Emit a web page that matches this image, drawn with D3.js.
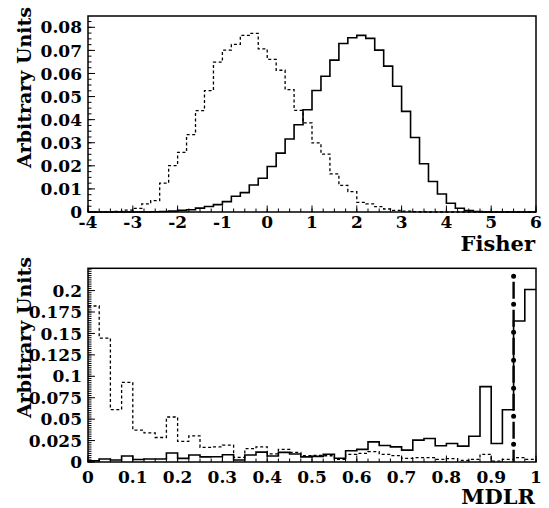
<!DOCTYPE html>
<html lang="en">
<head>
    <meta charset="UTF-8">
    <script src="https://cdn.jsdelivr.net/npm/d3@7"></script>
    <title>Fisher / MDLR</title>
    <style>
        body { margin: 0; background: #fff; }
        text { font-family: "DejaVu Serif", "Liberation Serif", serif; font-weight: bold; fill: #000; }
    </style>
</head>
<body>
    <script>
        // fisher discriminant, bins of 0.2 from -4 to 6
        const fisherStart = -4;
        const fisherBin = 0.2;
        const fisherSig = [
            0, 0, 0, 0, 0, 0, 0, 0.0001, 0.0002, 0.0004,
            0.0007, 0.0010, 0.0017, 0.0024, 0.0032, 0.0045, 0.0068, 0.0084, 0.0117, 0.0146,
            0.0197, 0.0255, 0.0316, 0.0378, 0.0443, 0.0526, 0.0588, 0.0658, 0.0730, 0.0755,
            0.0765, 0.0752, 0.0701, 0.0632, 0.0545, 0.0436, 0.0323, 0.0209, 0.0132, 0.0078,
            0.0038, 0.0016, 0.0006, 0.0002, 0, 0, 0, 0, 0, 0
        ];
        const fisherBkg = [
            0, 0, 0, 0.0003, 0.0008, 0.0016, 0.0035, 0.0049, 0.0125, 0.0201,
            0.0258, 0.0335, 0.0439, 0.0526, 0.0649, 0.0701, 0.0726, 0.0765, 0.0774, 0.0707,
            0.0661, 0.0614, 0.0530, 0.0440, 0.0386, 0.0299, 0.0251, 0.0165, 0.0115, 0.0088,
            0.0042, 0.0035, 0.0023, 0.0013, 0.0007, 0.0004, 0.0002, 0.0001, 0, 0,
            0, 0, 0, 0, 0, 0, 0, 0, 0, 0
        ];
        const fisherTicks = [-4, -3, -2, -1, 0, 1, 2, 3, 4, 5, 6];
        const fisherYTicks = [0, 0.01, 0.02, 0.03, 0.04, 0.05, 0.06, 0.07, 0.08];

        // MDLR, bins of 0.025 from 0 to 1
        const mdlrStart = 0;
        const mdlrBin = 0.025;
        const mdlrSig = [
            0.0015, 0.0035, 0.0023, 0.0070, 0.0030, 0.0035, 0.0035, 0.0105, 0.0042, 0.0081,
            0.0060, 0.0062, 0.0085, 0.0023, 0.0081, 0.0115, 0.0070, 0.0112, 0.0093, 0.0060,
            0.0066, 0.0090, 0.0043, 0.0131, 0.0147, 0.0235, 0.0193, 0.0177, 0.0139, 0.0255,
            0.0274, 0.0189, 0.0216, 0.0185, 0.0301, 0.0880, 0.0216, 0.0610, 0.1645, 0.2012
        ];
        const mdlrBkg = [
            0.1820, 0.1445, 0.0610, 0.0930, 0.0371, 0.0340, 0.0286, 0.0525, 0.0240, 0.0305,
            0.0170, 0.0177, 0.0197, 0.0055, 0.0155, 0.0177, 0.0095, 0.0147, 0.0112, 0.0073,
            0.0077, 0.0073, 0.0030, 0.0090, 0.0100, 0.0120, 0.0090, 0.0075, 0.0043, 0.0050,
            0.0050, 0.0030, 0.0040, 0.0020, 0.0030, 0.0090, 0.0010, 0.0030, 0.0050, 0.0030
        ];
        const mdlrTicks = [0, 0.1, 0.2, 0.3, 0.4, 0.5, 0.6, 0.7, 0.8, 0.9, 1];
        const mdlrYTicks = [0, 0.025, 0.05, 0.075, 0.1, 0.125, 0.15, 0.175, 0.2];
        const mdlrCut = 0.95;
        const mdlrCutTop = 0.2167;

        const w = 549;
        const h = 508;

        const svg = d3.select("body").append("svg")
            .attr("width", w)
            .attr("height", h);

        // plain hyphen for negatives, like the original plot
        const fmt = d => String(+d.toFixed(4));

        function stepLine(values, start, bin, x, y) {
            const pts = values.map((v, i) => [start + i * bin, v]);
            pts.push([start + values.length * bin, values[values.length - 1]]);
            return d3.line()
                .x(d => x(d[0]))
                .y(d => y(d[1]))
                .curve(d3.curveStepAfter)(pts);
        }

        function panel(opt) {
            const x = d3.scaleLinear().domain(opt.xDomain).range([88, 536]);
            const y = d3.scaleLinear().domain(opt.yDomain).range([opt.bottom, opt.top]);
            const g = svg.append("g");

            // minor + major ticks on x (bottom, pointing up)
            const xMinor = d3.range(opt.xDomain[0], opt.xDomain[1] + 1e-9, opt.xMinor);
            g.selectAll(".xminor")
                .data(xMinor)
                .enter()
                .append("line")
                .attr("x1", d => x(d)).attr("x2", d => x(d))
                .attr("y1", opt.bottom).attr("y2", opt.bottom - 3.5)
                .attr("stroke", "#000").attr("stroke-width", 1);
            g.selectAll(".xmajor")
                .data(opt.xTicks)
                .enter()
                .append("line")
                .attr("x1", d => x(d)).attr("x2", d => x(d))
                .attr("y1", opt.bottom).attr("y2", opt.bottom - 6.5)
                .attr("stroke", "#000").attr("stroke-width", 1);

            // y ticks (left, pointing right)
            const yMinor = d3.range(opt.yDomain[0], opt.yDomain[1], opt.yMinor);
            g.selectAll(".yminor")
                .data(yMinor)
                .enter()
                .append("line")
                .attr("y1", d => y(d)).attr("y2", d => y(d))
                .attr("x1", 88).attr("x2", 88 + 3.5)
                .attr("stroke", "#000").attr("stroke-width", 1);
            g.selectAll(".ymajor")
                .data(opt.yTicks)
                .enter()
                .append("line")
                .attr("y1", d => y(d)).attr("y2", d => y(d))
                .attr("x1", 88).attr("x2", 88 + 7)
                .attr("stroke", "#000").attr("stroke-width", 1);

            // histograms
            g.append("path")
                .attr("d", stepLine(opt.bkg, opt.start, opt.bin, x, y))
                .attr("fill", "none")
                .attr("stroke", "#000")
                .attr("stroke-width", 1.3)
                .attr("stroke-dasharray", "3,2.5");
            g.append("path")
                .attr("d", stepLine(opt.sig, opt.start, opt.bin, x, y))
                .attr("fill", "none")
                .attr("stroke", "#000")
                .attr("stroke-width", 1.6);

            // frame
            g.append("rect")
                .attr("x", 88).attr("y", opt.top)
                .attr("width", 448).attr("height", opt.bottom - opt.top)
                .attr("fill", "none")
                .attr("stroke", "#000")
                .attr("stroke-width", 1.5);

            // labels
            g.selectAll(".xlab")
                .data(opt.xTicks)
                .enter()
                .append("text")
                .attr("x", d => x(d))
                .attr("y", opt.bottom + opt.labelGap)
                .attr("text-anchor", "middle")
                .style("font-size", "17px")
                .text(fmt);
            g.selectAll(".ylab")
                .data(opt.yTicks)
                .enter()
                .append("text")
                .attr("x", 82)
                .attr("y", d => y(d))
                .attr("dy", "0.36em")
                .attr("text-anchor", "end")
                .style("font-size", "17px")
                .text(fmt);

            g.append("text")
                .attr("transform", "translate(31," + opt.yTitleEnd + ") rotate(-90)")
                .attr("text-anchor", "end")
                .style("font-size", "19px")
                .text("Arbitrary Units");
            g.append("text")
                .attr("x", 535)
                .attr("y", opt.xTitleY)
                .attr("text-anchor", "end")
                .style("font-size", "21px")
                .text(opt.xTitle);

            return { x: x, y: y, g: g };
        }

        panel({
            xDomain: [-4, 6], yDomain: [0, 0.0849], top: 16, bottom: 212,
            xMinor: 0.25, yMinor: 0.0025, xTicks: fisherTicks, yTicks: fisherYTicks,
            start: fisherStart, bin: fisherBin, sig: fisherSig, bkg: fisherBkg,
            labelGap: 16, xTitle: "Fisher", xTitleY: 251, yTitleEnd: 7
        });

        const p2 = panel({
            xDomain: [0, 1], yDomain: [0, 0.226], top: 268.3, bottom: 462,
            xMinor: 0.025, yMinor: 0.0025, xTicks: mdlrTicks, yTicks: mdlrYTicks,
            start: mdlrStart, bin: mdlrBin, sig: mdlrSig, bkg: mdlrBkg,
            labelGap: 21, xTitle: "MDLR", xTitleY: 504, yTitleEnd: 257
        });

        // cut line, dash-dot with round dots
        p2.g.append("line")
            .attr("x1", p2.x(mdlrCut)).attr("x2", p2.x(mdlrCut))
            .attr("y1", p2.y(mdlrCutTop)).attr("y2", p2.y(0))
            .attr("stroke", "#000")
            .attr("stroke-width", 2.4)
            .attr("stroke-dasharray", "0,5.5,17,5.5");
        p2.g.append("line")
            .attr("x1", p2.x(mdlrCut)).attr("x2", p2.x(mdlrCut))
            .attr("y1", p2.y(mdlrCutTop)).attr("y2", p2.y(0))
            .attr("stroke", "#000")
            .attr("stroke-width", 5)
            .attr("stroke-linecap", "round")
            .attr("stroke-dasharray", "0,28");
    </script>
</body>
</html>
